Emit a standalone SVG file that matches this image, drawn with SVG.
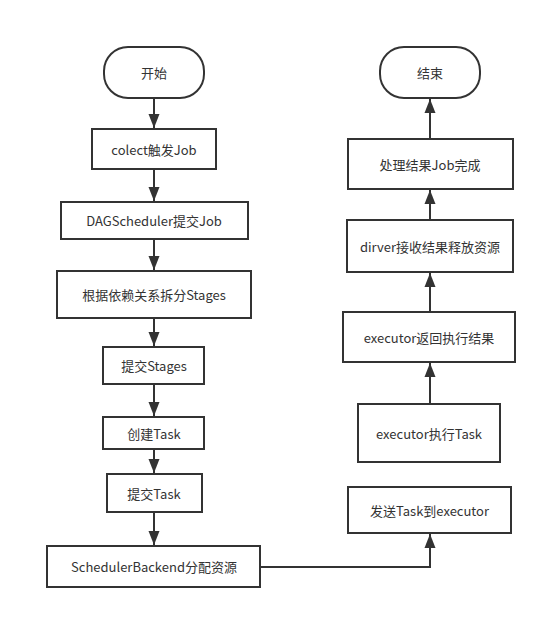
<svg xmlns="http://www.w3.org/2000/svg" width="548" height="619" viewBox="0 0 548 619">
<style>
.box{fill:#fff;stroke:#333;stroke-width:2}
.lbl{font-family:"Noto Sans CJK SC","Noto Sans",sans-serif;font-size:13px;fill:#333;text-anchor:middle;dominant-baseline:central}
.edge{fill:none;stroke:#333;stroke-width:2}
</style>
<defs>
<marker id="arr" markerUnits="userSpaceOnUse" markerWidth="14" markerHeight="12" viewBox="0 0 14 12" refX="14" refY="6" orient="auto">
<path d="M0,0.5 L14,6 L0,11.5 Z" fill="#333"/>
</marker>
</defs>
<rect width="548" height="619" fill="#fff"/>
<g id="connectors">
<path class="edge" d="M154,98 V128" marker-end="url(#arr)"/>
<path class="edge" d="M154,169 V201" marker-end="url(#arr)"/>
<path class="edge" d="M154,239 V270" marker-end="url(#arr)"/>
<path class="edge" d="M154,318 V346" marker-end="url(#arr)"/>
<path class="edge" d="M154,384 V416" marker-end="url(#arr)"/>
<path class="edge" d="M154,449 V473" marker-end="url(#arr)"/>
<path class="edge" d="M154,512 V545" marker-end="url(#arr)"/>
<path class="edge" d="M260,567 H430 V534" marker-end="url(#arr)"/>
<path class="edge" d="M430,404 V363" marker-end="url(#arr)"/>
<path class="edge" d="M430,312 V273" marker-end="url(#arr)"/>
<path class="edge" d="M430,220 V190" marker-end="url(#arr)"/>
<path class="edge" d="M430,139 V99" marker-end="url(#arr)"/>
</g>
<g id="start"><rect class="box" x="104" y="47" width="100" height="51" rx="24" ry="24"/><text class="lbl" x="154" y="72.5">开始</text></g>
<g id="collect"><rect class="box" x="92" y="129" width="124" height="40"/><text class="lbl" x="154" y="149">colect触发Job</text></g>
<g id="dag"><rect class="box" x="61" y="202" width="187" height="37"/><text class="lbl" x="154" y="220.5">DAGScheduler提交Job</text></g>
<g id="split"><rect class="box" x="57" y="271" width="194" height="47"/><text class="lbl" x="154" y="294.5">根据依赖关系拆分Stages</text></g>
<g id="submitStages"><rect class="box" x="103" y="347" width="101" height="37"/><text class="lbl" x="154" y="365.5">提交Stages</text></g>
<g id="createTask"><rect class="box" x="103" y="417" width="101" height="32"/><text class="lbl" x="154" y="433">创建Task</text></g>
<g id="submitTask"><rect class="box" x="107" y="474" width="95" height="38"/><text class="lbl" x="154" y="493">提交Task</text></g>
<g id="backend"><rect class="box" x="47" y="546" width="213" height="41"/><text class="lbl" x="154" y="566.5">SchedulerBackend分配资源</text></g>
<g id="send"><rect class="box" x="348" y="487" width="163" height="46"/><text class="lbl" x="429.5" y="510">发送Task到executor</text></g>
<g id="exec"><rect class="box" x="358" y="404" width="142" height="58"/><text class="lbl" x="429" y="433">executor执行Task</text></g>
<g id="ret"><rect class="box" x="343" y="312" width="172" height="50"/><text class="lbl" x="429" y="337">executor返回执行结果</text></g>
<g id="driver"><rect class="box" x="347" y="220" width="166" height="52"/><text class="lbl" x="430" y="246">dirver接收结果释放资源</text></g>
<g id="handle"><rect class="box" x="348" y="139" width="165" height="50"/><text class="lbl" x="430" y="164">处理结果Job完成</text></g>
<g id="end"><rect class="box" x="380" y="47" width="100" height="51" rx="24" ry="24"/><text class="lbl" x="430" y="72.5">结束</text></g>
</svg>
